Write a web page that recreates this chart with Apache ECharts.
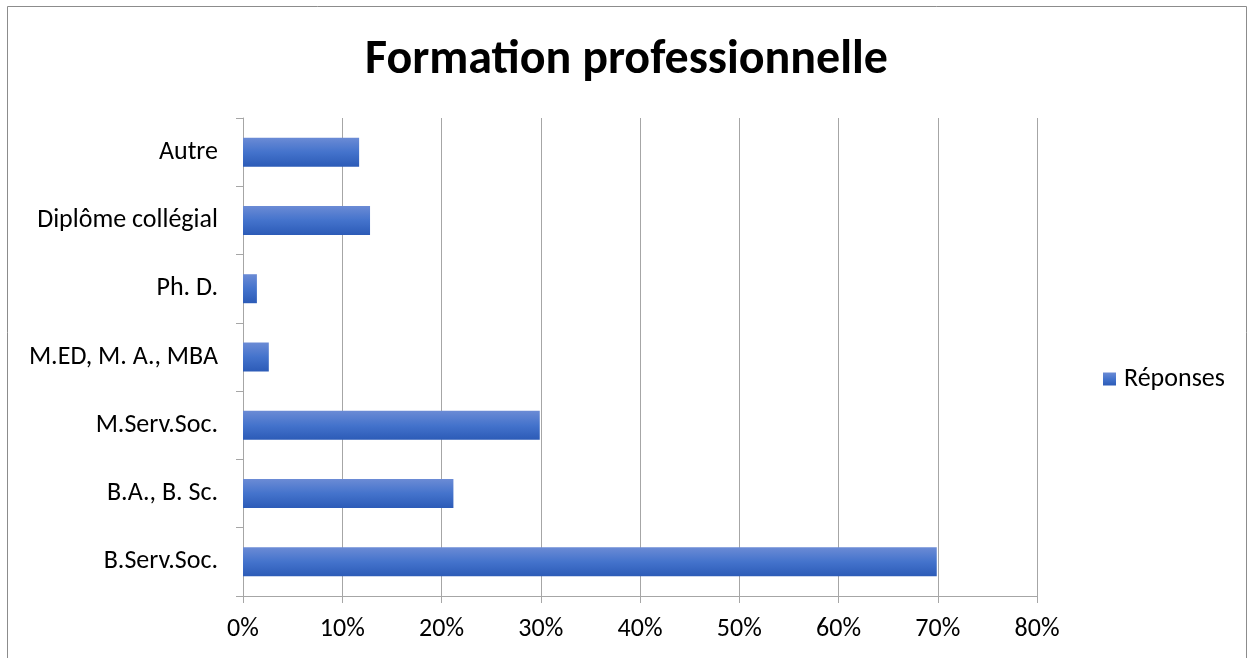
<!DOCTYPE html>
<html>
<head>
<meta charset="utf-8">
<script src="https://cdn.jsdelivr.net/npm/echarts@6/dist/echarts.min.js"></script>
<style>
  html, body { margin: 0; padding: 0; background: #fff; }
  #chart { width: 1253px; height: 658px; }
</style>
</head>
<body>
<div id="chart"></div>
<script>
// Categories listed bottom to top, as drawn on the vertical axis
const categories = ['B.Serv.Soc.', 'B.A., B. Sc.', 'M.Serv.Soc.', 'M.ED, M. A., MBA', 'Ph. D.', 'Diplôme collégial', 'Autre'];
// Share of answers, in percent
const responses = [69.9, 21.2, 29.9, 2.6, 1.4, 12.8, 11.7];
const seriesName = 'Réponses';
const titleText = 'Formation professionnelle';

const FONT = 'Carlito, Lato, "Open Sans", sans-serif';

const barFill = new echarts.graphic.LinearGradient(0, 0, 0, 1, [
  { offset: 0, color: '#6b8bd5' },
  { offset: 0.5, color: '#4473cc' },
  { offset: 1, color: '#2c5bb7' }
]);

const chart = echarts.init(document.getElementById('chart'), null, { renderer: 'canvas' });
chart.setOption({
  backgroundColor: '#fff',
  animation: false,
  textStyle: { fontFamily: FONT, color: '#000' },
  title: {
    text: titleText,
    left: 'center',
    top: 32,
    textStyle: { fontFamily: FONT, fontSize: 48, fontWeight: 'bold', color: '#000' }
  },
  legend: {
    data: [seriesName],
    orient: 'vertical',
    left: 1098,
    top: 361,
    itemWidth: 13,
    itemHeight: 13,
    itemGap: 6,
    icon: 'rect',
    textStyle: { fontFamily: FONT, fontSize: 26, color: '#000', padding: [0, 0, 0, 3] }
  },
  graphic: [{
    type: 'rect',
    shape: { x: 7.5, y: 6.5, width: 1239, height: 700 },
    style: { fill: null, stroke: '#8c8c8c', lineWidth: 1 },
    silent: true
  }],
  grid: { left: 243, right: 216, top: 118, bottom: 62, containLabel: false },
  xAxis: {
    type: 'value',
    min: 0,
    max: 80,
    interval: 10,
    axisLine: { show: true, lineStyle: { color: '#a6a6a6', width: 1 } },
    axisTick: { show: true, length: 7, lineStyle: { color: '#a6a6a6' } },
    splitLine: { show: true, lineStyle: { color: '#a6a6a6', width: 1 } },
    axisLabel: {
      formatter: v => v + '%',
      fontFamily: FONT,
      fontSize: 26,
      color: '#000',
      margin: 20
    }
  },
  yAxis: {
    type: 'category',
    data: categories,
    axisLine: { show: true, lineStyle: { color: '#a6a6a6', width: 1 } },
    axisTick: { show: true, length: 7, alignWithLabel: false, lineStyle: { color: '#a6a6a6' } },
    splitLine: { show: false },
    axisLabel: { fontFamily: FONT, fontSize: 26, color: '#000', margin: 25, padding: [4, 0, 0, 0] }
  },
  series: [{
    name: seriesName,
    type: 'bar',
    data: responses,
    barWidth: 29,
    itemStyle: { color: barFill }
  }]
});
</script>
</body>
</html>
